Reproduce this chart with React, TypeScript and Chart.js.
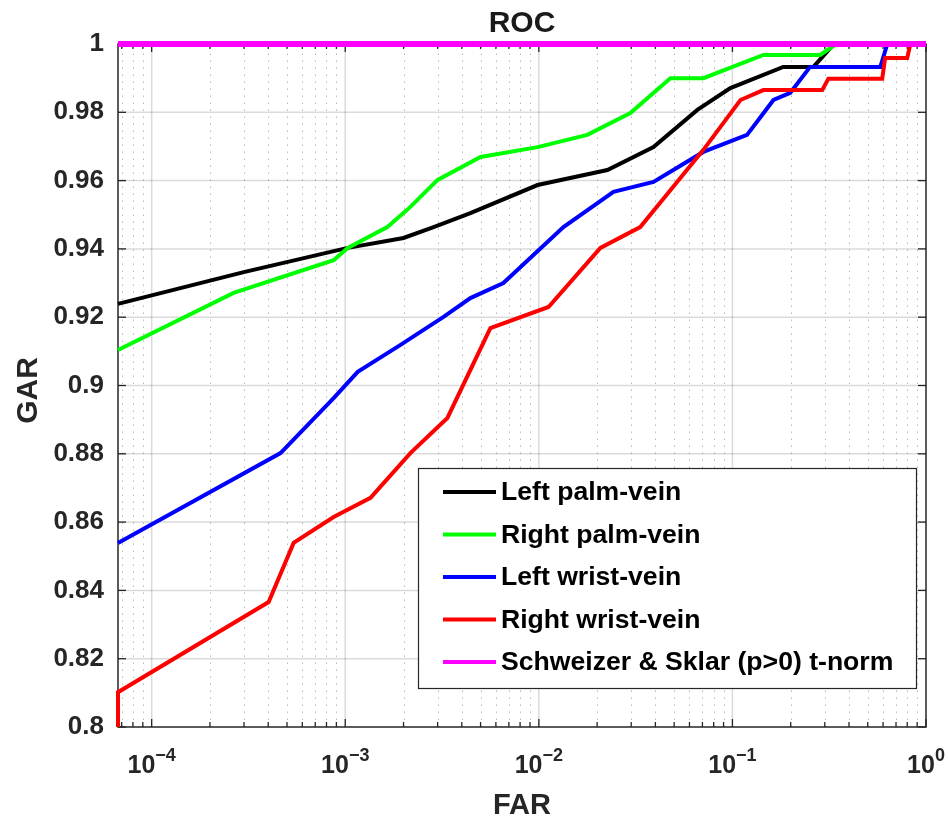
import React, { useEffect, useRef } from "react";
import { Chart, registerables } from "chart.js";

Chart.register(...registerables);

const FONT = "'Liberation Sans', Arial, Helvetica, sans-serif";
const AXIS_COLOR = "#262626";

// Axis ranges and ticks
const FAR_MIN = 6.7e-5;
const FAR_MAX = 1;
const GAR_MIN = 0.8;
const GAR_MAX = 1;
const GAR_TICKS = [0.8, 0.82, 0.84, 0.86, 0.88, 0.9, 0.92, 0.94, 0.96, 0.98, 1];
const FAR_EXPONENTS = [-4, -3, -2, -1, 0];

const SERIES_LABELS = [
  "Left palm-vein",
  "Right palm-vein",
  "Left wrist-vein",
  "Right wrist-vein",
  "Schweizer & Sklar (p>0) t-norm",
];
const SERIES_COLORS = ["#000000", "#00ff00", "#0000ff", "#ff0000", "#ff00ff"];
const SERIES_WIDTHS = [4, 4, 4, 4, 6];

// ROC curves: FAR (x) and GAR (y)
const leftPalmFar = [FAR_MIN, 2.99e-4, 1.03e-3, 2.0e-3, 2.86e-3, 4.43e-3, 9.85e-3, 0.0226, 0.0391, 0.0659, 0.0976, 0.183, 0.262, 0.335];
const leftPalmGar = [0.9239, 0.9332, 0.9403, 0.9432, 0.9464, 0.9505, 0.9587, 0.9631, 0.9698, 0.9807, 0.9871, 0.9933, 0.9933, 1.0];

const rightPalmFar = [FAR_MIN, 2.65e-4, 8.71e-4, 1.03e-3, 1.65e-3, 2.17e-3, 3.0e-3, 5.0e-3, 9.85e-3, 0.0178, 0.0297, 0.0478, 0.0708, 0.1445, 0.284, 0.344];
const rightPalmGar = [0.9104, 0.9271, 0.9367, 0.9403, 0.9464, 0.9523, 0.9602, 0.9669, 0.9698, 0.9734, 0.9798, 0.99, 0.99, 0.9968, 0.9968, 1.0];

const leftWristFar = [FAR_MIN, 4.63e-4, 8.71e-4, 1.16e-3, 1.93e-3, 3.22e-3, 4.43e-3, 6.56e-3, 0.0134, 0.0243, 0.0391, 0.0708, 0.119, 0.163, 0.199, 0.252, 0.581, 0.631];
const leftWristGar = [0.8539, 0.8802, 0.8963, 0.904, 0.9119, 0.9201, 0.9256, 0.93, 0.9464, 0.9567, 0.9596, 0.9684, 0.9734, 0.9836, 0.9857, 0.9933, 0.9933, 1.0];

const rightWristFar = [FAR_MIN, FAR_MIN, 4.02e-4, 5.41e-4, 8.71e-4, 1.35e-3, 2.17e-3, 3.37e-3, 5.62e-3, 0.01122, 0.0208, 0.0334, 0.0478, 0.0708, 0.11, 0.1445, 0.291, 0.313, 0.594, 0.615, 0.8, 0.83];
const rightWristGar = [0.8, 0.8102, 0.8366, 0.8539, 0.8615, 0.8671, 0.8802, 0.8905, 0.9168, 0.923, 0.9403, 0.9464, 0.9572, 0.969, 0.9836, 0.9865, 0.9865, 0.9898, 0.9898, 0.9959, 0.9959, 1.0];

const fusionFar = [FAR_MIN, FAR_MAX];
const fusionGar = [1.0, 1.0];

const SERIES_FAR = [leftPalmFar, rightPalmFar, leftWristFar, rightWristFar, fusionFar];
const SERIES_GAR = [leftPalmGar, rightPalmGar, leftWristGar, rightWristGar, fusionGar];

// minor log ticks: 2..9 x 10^e inside the axis range
function minorFarTicks(): number[] {
  const out: number[] = [];
  for (let e = -5; e <= 0; e++) {
    for (let m = 2; m <= 9; m++) {
      const v = m * Math.pow(10, e);
      if (v > FAR_MIN && v < FAR_MAX) out.push(v);
    }
  }
  return out;
}

const matlabFrame = {
  id: "matlabFrame",
  beforeDatasetsDraw(chart: any) {
    const { ctx, chartArea: a, scales } = chart;
    const xs = scales.x;
    const ys = scales.y;
    const line = (x1: number, y1: number, x2: number, y2: number) => {
      ctx.beginPath();
      ctx.moveTo(x1, y1);
      ctx.lineTo(x2, y2);
      ctx.stroke();
    };
    ctx.save();

    // dotted minor grid
    ctx.lineWidth = 1;
    ctx.strokeStyle = "rgba(38,38,38,0.32)";
    ctx.setLineDash([1.5, 5.5]);
    minorFarTicks().forEach((v) => {
      const px = Math.round(xs.getPixelForValue(v)) + 0.5;
      line(px, a.bottom, px, a.top);
    });

    // solid major grid
    ctx.setLineDash([]);
    ctx.strokeStyle = "rgba(38,38,38,0.17)";
    ctx.lineWidth = 1.5;
    FAR_EXPONENTS.forEach((e) => {
      const px = xs.getPixelForValue(Math.pow(10, e));
      if (px > a.left + 1 && px < a.right - 1) line(px, a.top, px, a.bottom);
    });
    GAR_TICKS.forEach((v) => {
      const py = ys.getPixelForValue(v);
      if (py > a.top + 1 && py < a.bottom - 1) line(a.left, py, a.right, py);
    });

    // axes box
    ctx.strokeStyle = AXIS_COLOR;
    ctx.lineWidth = 1.5;
    ctx.strokeRect(a.left, a.top, a.right - a.left, a.bottom - a.top);

    // inward tick marks
    ctx.lineWidth = 1.3;
    FAR_EXPONENTS.forEach((e) => {
      const px = xs.getPixelForValue(Math.pow(10, e));
      line(px, a.bottom, px, a.bottom - 8);
      line(px, a.top, px, a.top + 8);
    });
    minorFarTicks().forEach((v) => {
      const px = xs.getPixelForValue(v);
      line(px, a.bottom, px, a.bottom - 5);
      line(px, a.top, px, a.top + 5);
    });
    GAR_TICKS.forEach((v) => {
      const py = ys.getPixelForValue(v);
      line(a.left, py, a.left + 8, py);
      line(a.right, py, a.right - 8, py);
    });
    ctx.restore();
  },
  afterDatasetsDraw(chart: any) {
    const { ctx, chartArea: a } = chart;
    ctx.save();
    // legend box in the lower right of the axes
    const right = a.right - 10;
    const bottom = a.bottom - 39;
    const left = right - 498;
    const top = bottom - 220;
    ctx.fillStyle = "#ffffff";
    ctx.fillRect(left, top, right - left, bottom - top);
    ctx.strokeStyle = AXIS_COLOR;
    ctx.lineWidth = 1.2;
    ctx.strokeRect(left + 0.5, top + 0.5, right - left, bottom - top);

    ctx.font = `bold 26.6px ${FONT}`;
    ctx.textBaseline = "middle";
    ctx.textAlign = "left";
    chart.data.datasets.forEach((ds: any, i: number) => {
      const y = top + 24 + i * 42.5;
      ctx.strokeStyle = ds.borderColor;
      ctx.lineWidth = 4;
      ctx.beginPath();
      ctx.moveTo(left + 25, y);
      ctx.lineTo(left + 78, y);
      ctx.stroke();
      ctx.fillStyle = "#000000";
      ctx.fillText(ds.label, left + 83, y + 1);
    });
    ctx.restore();
  },
  afterDraw(chart: any) {
    const { ctx, chartArea: a, scales } = chart;
    const xs = scales.x;
    const cx = (a.left + a.right) / 2;
    const cy = (a.top + a.bottom) / 2;
    ctx.save();
    ctx.fillStyle = AXIS_COLOR;

    // decade tick labels with superscript exponents
    ctx.textBaseline = "alphabetic";
    ctx.textAlign = "left";
    FAR_EXPONENTS.forEach((e) => {
      const px = xs.getPixelForValue(Math.pow(10, e));
      const expText = e < 0 ? "\u2212" + String(-e) : String(e);
      ctx.font = `bold 25px ${FONT}`;
      const wBase = ctx.measureText("10").width;
      ctx.font = `bold 18px ${FONT}`;
      const wExp = ctx.measureText(expText).width;
      const x0 = px - (wBase + wExp) / 2;
      ctx.font = `bold 25px ${FONT}`;
      ctx.fillText("10", x0, a.bottom + 46);
      ctx.font = `bold 18px ${FONT}`;
      ctx.fillText(expText, x0 + wBase, a.bottom + 34);
    });

    // title and axis titles
    ctx.fillStyle = "#1a1a1a";
    ctx.textAlign = "center";
    ctx.font = `bold 30px ${FONT}`;
    ctx.fillText("ROC", cx, a.top - 12);

    ctx.fillStyle = AXIS_COLOR;
    ctx.font = `bold 29px ${FONT}`;
    ctx.fillText("FAR", cx, a.bottom + 87);

    ctx.translate(a.left - 81, cy + 5);
    ctx.rotate(-Math.PI / 2);
    ctx.font = `bold 30px ${FONT}`;
    ctx.fillText("GAR", 0, 0);
    ctx.restore();
  },
};

export default function App() {
  const canvasRef = useRef<HTMLCanvasElement | null>(null);

  useEffect(() => {
    const canvas = canvasRef.current;
    if (!canvas) return;
    const datasets = SERIES_LABELS.map((label, i) => ({
      label,
      data: SERIES_FAR[i].map((f, k) => ({ x: f, y: SERIES_GAR[i][k] })),
      borderColor: SERIES_COLORS[i],
      backgroundColor: SERIES_COLORS[i],
      borderWidth: SERIES_WIDTHS[i],
      pointRadius: 0,
      tension: 0,
      fill: false,
      clip: false,
      order: SERIES_LABELS.length - i,
    }));

    const chart = new Chart(canvas, {
      type: "line",
      data: { datasets },
      options: {
        responsive: false,
        animation: false,
        events: [],
        layout: { padding: { top: 44, right: 22, bottom: 0, left: 0 } },
        plugins: {
          legend: { display: false },
          tooltip: { enabled: false },
          title: { display: false },
        },
        scales: {
          x: {
            type: "logarithmic",
            min: FAR_MIN,
            max: FAR_MAX,
            ticks: { display: false },
            grid: { display: false, drawTicks: false },
            border: { display: false },
            afterFit: (s: any) => {
              s.height = 93;
            },
          },
          y: {
            type: "linear",
            min: GAR_MIN,
            max: GAR_MAX,
            afterBuildTicks: (s: any) => {
              s.ticks = GAR_TICKS.map((v) => ({ value: v }));
            },
            ticks: {
              color: AXIS_COLOR,
              padding: 14,
              font: { family: FONT, size: 26, weight: "bold" },
              callback: (v: any) => String(Number(Number(v).toFixed(2))),
            },
            grid: { display: false, drawTicks: false },
            border: { display: false },
            afterFit: (s: any) => {
              s.width = 118;
            },
          },
        },
      } as any,
      plugins: [matlabFrame as any],
    });
    return () => chart.destroy();
  }, []);

  return (
    <div style={{ position: "fixed", left: 0, top: 0, width: 948, height: 820, background: "#ffffff" }}>
      <canvas ref={canvasRef} width={948} height={820} style={{ display: "block" }} />
    </div>
  );
}
